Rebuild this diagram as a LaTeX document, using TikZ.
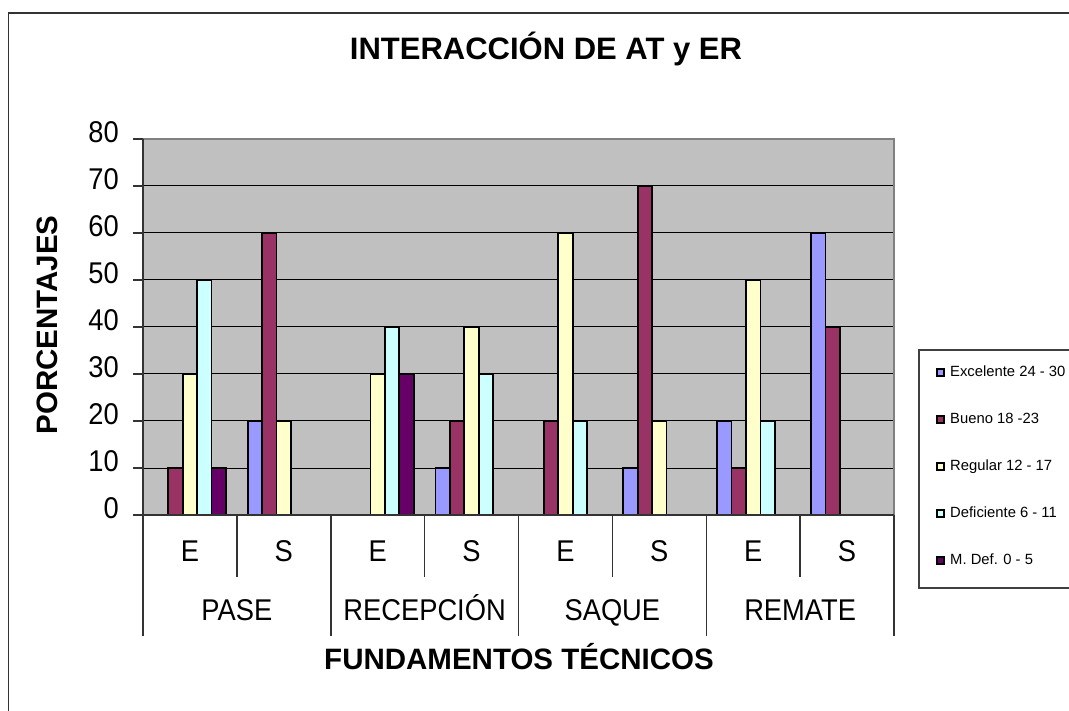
\documentclass[tikz,border=0pt]{standalone}
\usepackage{fontspec}
\setmainfont{Liberation Sans}
\newfontfamily\condfont[FakeStretch=0.91]{Liberation Sans}
\definecolor{cexc}{HTML}{9999FF}
\definecolor{cbue}{HTML}{993366}
\definecolor{creg}{HTML}{FFFFCC}
\definecolor{cdef}{HTML}{CCFFFF}
\definecolor{cmd}{HTML}{660066}
\definecolor{plotgrey}{HTML}{C0C0C0}
\begin{document}
\begin{tikzpicture}[x=1pt,y=-1pt,
  capbox/.style={inner sep=0pt,text height=0.716em,text depth=0pt},
  ticklab/.style={capbox,font=\condfont\fontsize{30}{36}\selectfont},
  cattext/.style={capbox,font=\condfont\fontsize{30}{36}\selectfont},
  titletext/.style={capbox,font=\fontsize{31}{37}\selectfont\bfseries},
  axtitle/.style={capbox,font=\fontsize{29.5}{35}\selectfont\bfseries},
  legtext/.style={capbox,anchor=west,font=\fontsize{14.8}{18}\selectfont},
  barbox/.style={draw=black,line width=1.8pt},
  legkey/.style={draw=black,line width=1.2pt},
  grid line/.style={black,line width=1pt},
  axis line/.style={black!80,line width=1.5pt}]
\useasboundingbox (0,0) rectangle (1069,711);
\fill[white] (0,0) rectangle (1069,711);
% chart border
\draw[black!80,line width=1.3pt] (8.5,720) -- (8.5,13) -- (1080,13);
% plot area
\fill[plotgrey] (143,139) rectangle (894,515);
\foreach \v in {10,20,...,70}{
  \draw[grid line] (143,{515-4.7*\v}) -- (894,{515-4.7*\v});
}
\draw[gray,line width=1.3pt] (143,139) -- (894,139) -- (894,515);
% bars
\foreach \s/\col/\vals in {0/cexc/{0,20,0,10,0,10,20,60},
                           1/cbue/{10,60,0,20,20,70,10,40},
                           2/creg/{30,20,30,40,60,20,50,0},
                           3/cdef/{50,0,40,30,20,0,20,0},
                           4/cmd/{10,0,30,0,0,0,0,0}}{
  \foreach \v [count=\c from 0] in \vals {
    \ifnum\v>0
      \filldraw[barbox,fill=\col] ({143+\c*93.875+10.83+\s*14.44},515) rectangle ++(14.44,{-4.7*\v});
    \fi
  }
}
% axes
\draw[axis line] (143,139) -- (143,636);
\draw[axis line] (133,515) -- (894,515);
\foreach \v in {0,10,...,80}{
  \draw[axis line] (133,{515-4.7*\v}) -- (143,{515-4.7*\v});
  \node[ticklab,anchor=east] (y\v) at (119,{515-4.7*\v}) {\v};
}
% category dividers
\foreach \c in {1,3,5,7}{
  \draw[axis line] ({143+\c*93.875},515) -- ({143+\c*93.875},577);
}
\foreach \c in {2,4,6,8}{
  \draw[axis line] ({143+\c*93.875},515) -- ({143+\c*93.875},636);
}
\foreach \c/\t in {0/E,1/S,2/E,3/S,4/E,5/S,6/E,7/S}{
  \node[cattext] (sub\c) at ({143+(\c+0.5)*93.875},558) {\t};
}
\foreach \g/\t in {0/PASE,1/RECEPCIÓN,2/SAQUE,3/REMATE}{
  \node[cattext] (grp\g) at ({143+(2*\g+1)*93.875},617) {\t};
}
% titles
\node[titletext] (title) at (546,56) {INTERACCIÓN DE AT y ER};
\node[axtitle] (xtitle) at (519,666) {FUNDAMENTOS TÉCNICOS};
\node[axtitle,rotate=90] (ytitle) at (54,325) {PORCENTAJES};
% legend
\draw[black!75,line width=1.1pt] (1080,350) -- (919,350) -- (919,588) -- (1080,588);
\foreach \i/\col/\t in {0/cexc/{Excelente 24 - 30},1/cbue/{Bueno 18 -23},2/creg/{Regular 12 - 17},3/cdef/{Deficiente 6 - 11},4/cmd/{M. Def. 0 - 5}}{
  \filldraw[legkey,fill=\col] (937,{372.5+47*\i-3.5}) rectangle ++(7,7);
  \node[legtext] (leg\i) at (950,{372.5+47*\i}) {\t};
}
\end{tikzpicture}
\end{document}
